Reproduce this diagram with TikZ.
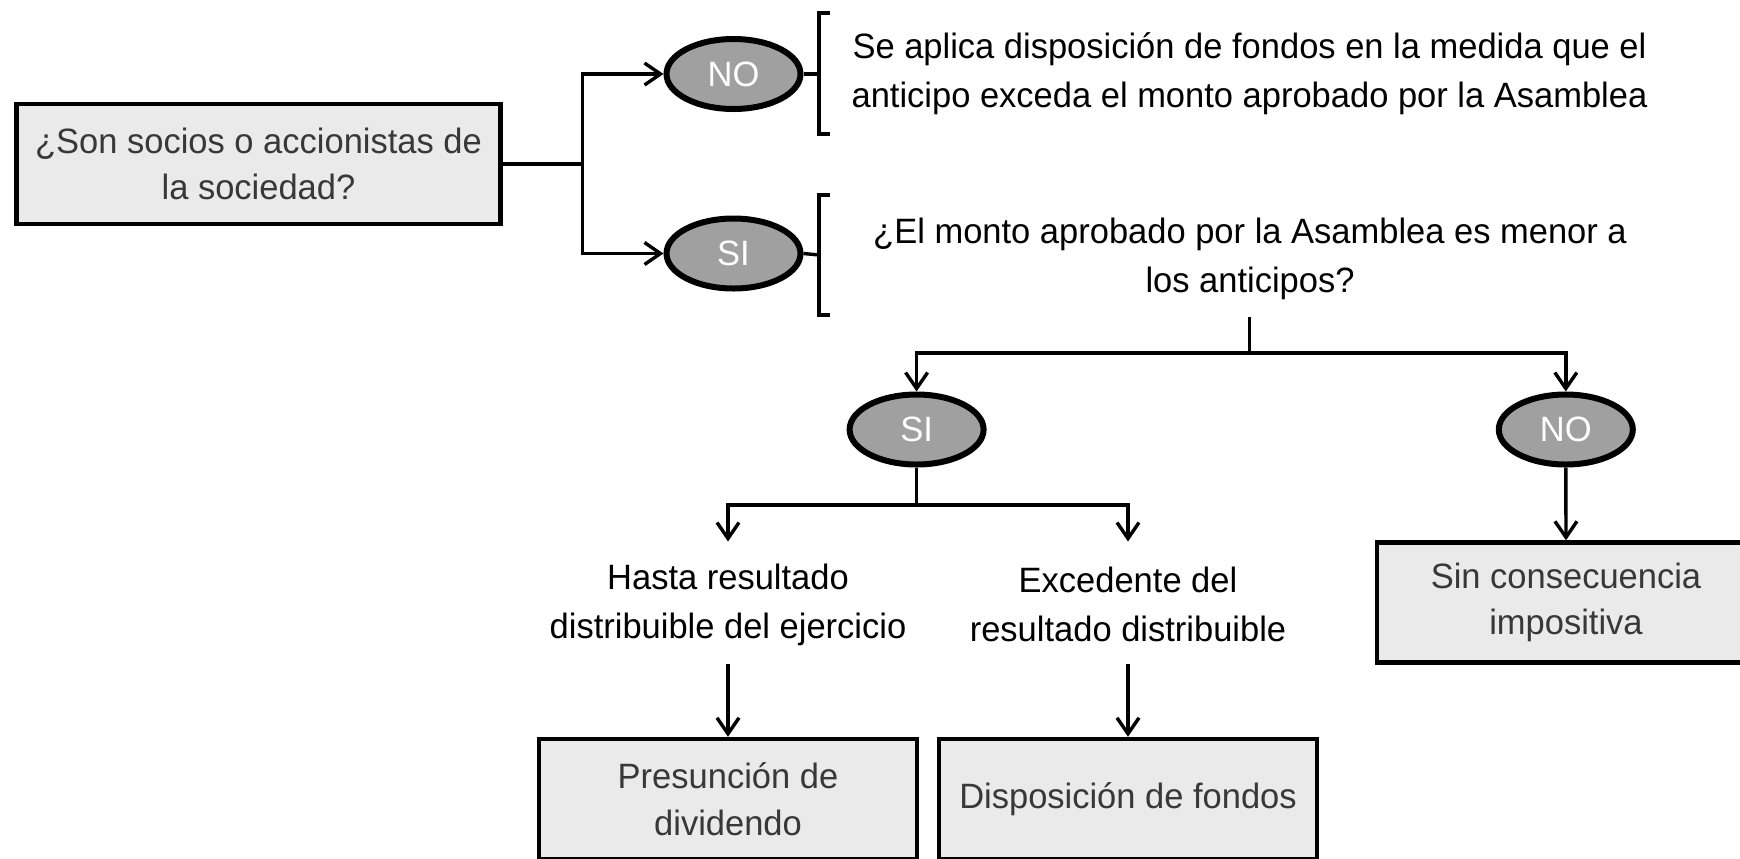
\documentclass[tikz,border=0pt]{standalone}
\usepackage{fontspec}
\setmainfont{Liberation Sans}[FakeStretch=0.98]
\usetikzlibrary{arrows.meta,shapes.geometric}
\definecolor{boxfill}{HTML}{EAEAEA}
\definecolor{boxtext}{HTML}{383838}
\definecolor{ovalfill}{HTML}{A0A0A0}
\begin{document}
\begin{tikzpicture}[x=0.5pt,y=-0.5pt,
  line width=1.7pt,
  arr/.style={-{Straight Barb[length=8pt,width=11pt,line width=1.7pt]}},
  box/.style={draw=black,line width=2.2pt,fill=boxfill,text=boxtext,minimum width=189pt,minimum height=60pt,align=center,inner sep=0pt,font=\fontsize{17.6}{23.3}\selectfont},
  oval/.style={ellipse,draw=black,line width=3pt,fill=ovalfill,text=white,minimum width=67pt,minimum height=35pt,inner sep=0pt,font=\fontsize{17.6}{20}\selectfont},
  lbl/.style={align=center,inner sep=0pt,font=\fontsize{17.6}{24.4}\selectfont},
  brk/.style={line width=1.7pt}
]
\useasboundingbox (0,0) rectangle (1740,858);
% first question
\node[box,minimum width=242pt] (q1) at (258.5,164) {¿Son socios o accionistas de\\la sociedad?};
\node[oval] (no1) at (733.5,74) {NO};
\node[oval] (si1) at (733.5,253.5) {SI};
\coordinate (j1) at (582.6,164);
\draw (q1.east) -- (j1);
\draw[arr] (j1) |- (no1.west);
\draw[arr] (j1) |- (si1.west);
% brackets
\coordinate (b1) at (819,74);
\coordinate (b2) at (819,255);
\draw[brk] (no1.east) -- (b1);
\draw[brk] ([shift={(11,-61)}]b1) -- ++(-11,0) -- ++(0,121) -- ++(11,0);
\draw[brk] (si1.east) -- (b2);
\draw[brk] ([shift={(11,-60)}]b2) -- ++(-11,0) -- ++(0,120) -- ++(11,0);
% texts
\node[lbl] (t1) at (1249.5,74) {Se aplica disposición de fondos en la medida que el\\anticipo exceda el monto aprobado por la Asamblea};
\node[lbl] (t2) at (1250,258.6) {¿El monto aprobado por la Asamblea es menor a\\los anticipos?};
\coordinate (t2b) at (1249.5,317);
\coordinate (j2) at (1249.5,353);
\draw (t2b) -- (j2);
% second level
\node[oval] (si2) at (916.6,429.5) {SI};
\node[oval] (no2) at (1565.8,429.5) {NO};
\draw[arr] (j2) -| (si2.north);
\draw[arr] (j2) -| (no2.north);
\coordinate (j3) at (916.6,505);
\draw (si2.south) -- (j3);
\node[lbl] (h1) at (728,604.5) {Hasta resultado\\distribuible del ejercicio};
\node[lbl] (h2) at (1128,604.5) {Excedente del\\resultado distribuible};
\coordinate (a1) at (728,541.5);
\coordinate (a2) at (1128,541.5);
\draw[arr] (j3) -| (a1);
\draw[arr] (j3) -| (a2);
% result boxes
\node[box] (p1) at (728,799) {Presunción de\\dividendo};
\node[box] (p2) at (1128,799) {Disposición de fondos};
\node[box] (p3) at (1566,602.5) {Sin consecuencia\\impositiva};
\coordinate (h1b) at (728,664);
\coordinate (h2b) at (1128,664);
\draw[arr] (h1b) -- (p1.north);
\draw[arr] (h2b) -- (p2.north);
\draw[arr] (no2.south) -- (p3.north);
\end{tikzpicture}
\end{document}
